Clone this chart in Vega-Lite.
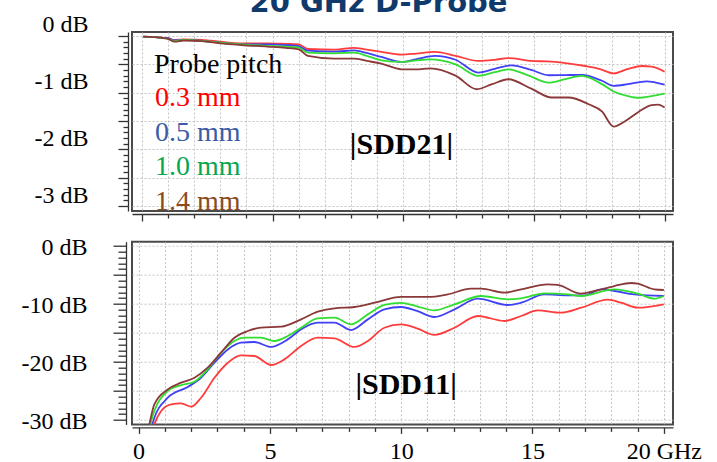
{
  "$schema": "https://vega.github.io/schema/vega-lite/v6.json",
  "background": "white",
  "padding": {"left": 20, "top": -13, "right": 5, "bottom": 5},
  "autosize": {"type": "pad"},
  "bounds": "flush",
  "spacing": 30.7,
  "config": {
    "view": {"stroke": "#4a4a4a", "strokeWidth": 2},
    "font": "Liberation Serif",
    "axis": {"labelFont": "Liberation Serif", "labelColor": "black", "labelFontSize": 24, "labelOverlap": false, "labelBound": false, "labelFlush": false, "gridColor": "#c4c4c4", "gridDash": [2, 2], "gridWidth": 1, "tickColor": "#333333", "tickWidth": 1.3, "domainColor": "#333333", "domainWidth": 1.3, "title": null, "tickCount": 200}
  },
  "datasets": {
    "s21": [
      {"f":0.05,"v":-0.01,"pitch":"0.3 mm"},{"f":0.5,"v":-0.02,"pitch":"0.3 mm"},{"f":1.0,"v":-0.04,"pitch":"0.3 mm"},{"f":1.25,"v":-0.07,"pitch":"0.3 mm"},{"f":1.6,"v":-0.06,"pitch":"0.3 mm"},{"f":2.3,"v":-0.07,"pitch":"0.3 mm"},{"f":3.0,"v":-0.1,"pitch":"0.3 mm"},{"f":3.8,"v":-0.13,"pitch":"0.3 mm"},{"f":4.8,"v":-0.13,"pitch":"0.3 mm"},{"f":5.5,"v":-0.14,"pitch":"0.3 mm"},{"f":6.0,"v":-0.15,"pitch":"0.3 mm"},{"f":6.35,"v":-0.23,"pitch":"0.3 mm"},{"f":7.4,"v":-0.24,"pitch":"0.3 mm"},{"f":8.1,"v":-0.21,"pitch":"0.3 mm"},{"f":8.6,"v":-0.24,"pitch":"0.3 mm"},{"f":9.16,"v":-0.28,"pitch":"0.3 mm"},{"f":9.93,"v":-0.33,"pitch":"0.3 mm"},{"f":10.5,"v":-0.31,"pitch":"0.3 mm"},{"f":11.2,"v":-0.28,"pitch":"0.3 mm"},{"f":12.0,"v":-0.35,"pitch":"0.3 mm"},{"f":12.87,"v":-0.44,"pitch":"0.3 mm"},{"f":13.5,"v":-0.42,"pitch":"0.3 mm"},{"f":14.02,"v":-0.39,"pitch":"0.3 mm"},{"f":14.92,"v":-0.44,"pitch":"0.3 mm"},{"f":15.5,"v":-0.45,"pitch":"0.3 mm"},{"f":16.07,"v":-0.47,"pitch":"0.3 mm"},{"f":16.96,"v":-0.53,"pitch":"0.3 mm"},{"f":17.5,"v":-0.58,"pitch":"0.3 mm"},{"f":18.05,"v":-0.66,"pitch":"0.3 mm"},{"f":18.6,"v":-0.58,"pitch":"0.3 mm"},{"f":19.13,"v":-0.53,"pitch":"0.3 mm"},{"f":19.5,"v":-0.54,"pitch":"0.3 mm"},{"f":20.0,"v":-0.63,"pitch":"0.3 mm"},
      {"f":0.05,"v":-0.01,"pitch":"0.5 mm"},{"f":0.5,"v":-0.02,"pitch":"0.5 mm"},{"f":1.0,"v":-0.04,"pitch":"0.5 mm"},{"f":1.25,"v":-0.08,"pitch":"0.5 mm"},{"f":1.6,"v":-0.07,"pitch":"0.5 mm"},{"f":2.3,"v":-0.085,"pitch":"0.5 mm"},{"f":3.0,"v":-0.12,"pitch":"0.5 mm"},{"f":3.8,"v":-0.148,"pitch":"0.5 mm"},{"f":4.8,"v":-0.15,"pitch":"0.5 mm"},{"f":5.5,"v":-0.16,"pitch":"0.5 mm"},{"f":6.0,"v":-0.18,"pitch":"0.5 mm"},{"f":6.35,"v":-0.26,"pitch":"0.5 mm"},{"f":7.36,"v":-0.276,"pitch":"0.5 mm"},{"f":8.13,"v":-0.254,"pitch":"0.5 mm"},{"f":8.6,"v":-0.3,"pitch":"0.5 mm"},{"f":9.16,"v":-0.37,"pitch":"0.5 mm"},{"f":9.93,"v":-0.458,"pitch":"0.5 mm"},{"f":10.5,"v":-0.41,"pitch":"0.5 mm"},{"f":11.21,"v":-0.352,"pitch":"0.5 mm"},{"f":12.0,"v":-0.42,"pitch":"0.5 mm"},{"f":12.87,"v":-0.646,"pitch":"0.5 mm"},{"f":13.5,"v":-0.58,"pitch":"0.5 mm"},{"f":14.15,"v":-0.518,"pitch":"0.5 mm"},{"f":14.9,"v":-0.6,"pitch":"0.5 mm"},{"f":15.56,"v":-0.693,"pitch":"0.5 mm"},{"f":16.2,"v":-0.69,"pitch":"0.5 mm"},{"f":16.83,"v":-0.687,"pitch":"0.5 mm"},{"f":17.6,"v":-0.79,"pitch":"0.5 mm"},{"f":18.05,"v":-0.88,"pitch":"0.5 mm"},{"f":18.6,"v":-0.85,"pitch":"0.5 mm"},{"f":19.3,"v":-0.8,"pitch":"0.5 mm"},{"f":20.0,"v":-0.86,"pitch":"0.5 mm"},
      {"f":0.05,"v":-0.01,"pitch":"1.0 mm"},{"f":0.5,"v":-0.02,"pitch":"1.0 mm"},{"f":1.0,"v":-0.05,"pitch":"1.0 mm"},{"f":1.25,"v":-0.09,"pitch":"1.0 mm"},{"f":1.6,"v":-0.07,"pitch":"1.0 mm"},{"f":2.3,"v":-0.088,"pitch":"1.0 mm"},{"f":3.0,"v":-0.12,"pitch":"1.0 mm"},{"f":3.8,"v":-0.15,"pitch":"1.0 mm"},{"f":4.8,"v":-0.176,"pitch":"1.0 mm"},{"f":5.5,"v":-0.19,"pitch":"1.0 mm"},{"f":6.0,"v":-0.206,"pitch":"1.0 mm"},{"f":6.35,"v":-0.294,"pitch":"1.0 mm"},{"f":7.36,"v":-0.306,"pitch":"1.0 mm"},{"f":8.13,"v":-0.294,"pitch":"1.0 mm"},{"f":8.6,"v":-0.35,"pitch":"1.0 mm"},{"f":9.16,"v":-0.43,"pitch":"1.0 mm"},{"f":9.93,"v":-0.458,"pitch":"1.0 mm"},{"f":10.5,"v":-0.43,"pitch":"1.0 mm"},{"f":11.02,"v":-0.412,"pitch":"1.0 mm"},{"f":12.0,"v":-0.5,"pitch":"1.0 mm"},{"f":12.87,"v":-0.704,"pitch":"1.0 mm"},{"f":13.5,"v":-0.64,"pitch":"1.0 mm"},{"f":14.02,"v":-0.588,"pitch":"1.0 mm"},{"f":14.8,"v":-0.7,"pitch":"1.0 mm"},{"f":15.56,"v":-0.822,"pitch":"1.0 mm"},{"f":16.2,"v":-0.76,"pitch":"1.0 mm"},{"f":16.83,"v":-0.704,"pitch":"1.0 mm"},{"f":17.6,"v":-0.85,"pitch":"1.0 mm"},{"f":18.05,"v":-0.98,"pitch":"1.0 mm"},{"f":18.6,"v":-1.06,"pitch":"1.0 mm"},{"f":19.01,"v":-1.09,"pitch":"1.0 mm"},{"f":19.5,"v":-1.06,"pitch":"1.0 mm"},{"f":20.0,"v":-1.016,"pitch":"1.0 mm"},
      {"f":0.05,"v":-0.01,"pitch":"1.4 mm"},{"f":0.5,"v":-0.02,"pitch":"1.4 mm"},{"f":1.0,"v":-0.05,"pitch":"1.4 mm"},{"f":1.25,"v":-0.1,"pitch":"1.4 mm"},{"f":1.6,"v":-0.08,"pitch":"1.4 mm"},{"f":2.3,"v":-0.09,"pitch":"1.4 mm"},{"f":3.0,"v":-0.13,"pitch":"1.4 mm"},{"f":3.8,"v":-0.16,"pitch":"1.4 mm"},{"f":4.8,"v":-0.188,"pitch":"1.4 mm"},{"f":5.5,"v":-0.21,"pitch":"1.4 mm"},{"f":6.0,"v":-0.236,"pitch":"1.4 mm"},{"f":6.35,"v":-0.352,"pitch":"1.4 mm"},{"f":7.36,"v":-0.4,"pitch":"1.4 mm"},{"f":8.13,"v":-0.4,"pitch":"1.4 mm"},{"f":8.6,"v":-0.44,"pitch":"1.4 mm"},{"f":9.16,"v":-0.488,"pitch":"1.4 mm"},{"f":9.93,"v":-0.588,"pitch":"1.4 mm"},{"f":10.5,"v":-0.59,"pitch":"1.4 mm"},{"f":11.02,"v":-0.57,"pitch":"1.4 mm"},{"f":12.0,"v":-0.7,"pitch":"1.4 mm"},{"f":12.81,"v":-0.94,"pitch":"1.4 mm"},{"f":13.4,"v":-0.85,"pitch":"1.4 mm"},{"f":14.02,"v":-0.764,"pitch":"1.4 mm"},{"f":14.9,"v":-0.93,"pitch":"1.4 mm"},{"f":15.68,"v":-1.086,"pitch":"1.4 mm"},{"f":16.32,"v":-1.086,"pitch":"1.4 mm"},{"f":17.09,"v":-1.204,"pitch":"1.4 mm"},{"f":17.6,"v":-1.33,"pitch":"1.4 mm"},{"f":18.05,"v":-1.6,"pitch":"1.4 mm"},{"f":18.5,"v":-1.5,"pitch":"1.4 mm"},{"f":19.0,"v":-1.34,"pitch":"1.4 mm"},{"f":19.5,"v":-1.22,"pitch":"1.4 mm"},{"f":19.75,"v":-1.21,"pitch":"1.4 mm"},{"f":20.0,"v":-1.26,"pitch":"1.4 mm"}
    ],
    "s11": [
      {"f":0.45,"v":-33,"pitch":"0.3 mm"},{"f":0.6,"v":-30.76,"pitch":"0.3 mm"},{"f":0.86,"v":-28.45,"pitch":"0.3 mm"},{"f":1.24,"v":-27.31,"pitch":"0.3 mm"},{"f":1.62,"v":-27.14,"pitch":"0.3 mm"},{"f":2.0,"v":-27.71,"pitch":"0.3 mm"},{"f":2.38,"v":-26.16,"pitch":"0.3 mm"},{"f":2.89,"v":-22.71,"pitch":"0.3 mm"},{"f":3.4,"v":-20.12,"pitch":"0.3 mm"},{"f":3.9,"v":-18.85,"pitch":"0.3 mm"},{"f":4.41,"v":-18.97,"pitch":"0.3 mm"},{"f":5.05,"v":-20.52,"pitch":"0.3 mm"},{"f":5.55,"v":-19.55,"pitch":"0.3 mm"},{"f":6.19,"v":-17.24,"pitch":"0.3 mm"},{"f":6.82,"v":-15.81,"pitch":"0.3 mm"},{"f":7.46,"v":-15.93,"pitch":"0.3 mm"},{"f":8.22,"v":-17.41,"pitch":"0.3 mm"},{"f":8.73,"v":-16.38,"pitch":"0.3 mm"},{"f":9.36,"v":-14.09,"pitch":"0.3 mm"},{"f":10.0,"v":-13.52,"pitch":"0.3 mm"},{"f":10.6,"v":-14.2,"pitch":"0.3 mm"},{"f":11.26,"v":-15.34,"pitch":"0.3 mm"},{"f":12.03,"v":-14.09,"pitch":"0.3 mm"},{"f":12.92,"v":-12.07,"pitch":"0.3 mm"},{"f":13.93,"v":-12.93,"pitch":"0.3 mm"},{"f":14.57,"v":-12.07,"pitch":"0.3 mm"},{"f":15.2,"v":-11.1,"pitch":"0.3 mm"},{"f":16.09,"v":-11.5,"pitch":"0.3 mm"},{"f":16.85,"v":-10.64,"pitch":"0.3 mm"},{"f":17.87,"v":-9.26,"pitch":"0.3 mm"},{"f":18.37,"v":-9.78,"pitch":"0.3 mm"},{"f":19.01,"v":-10.64,"pitch":"0.3 mm"},{"f":20.0,"v":-10.06,"pitch":"0.3 mm"},
      {"f":0.4,"v":-33,"pitch":"0.5 mm"},{"f":0.54,"v":-30.47,"pitch":"0.5 mm"},{"f":1.11,"v":-26.16,"pitch":"0.5 mm"},{"f":1.87,"v":-24.31,"pitch":"0.5 mm"},{"f":2.38,"v":-22.71,"pitch":"0.5 mm"},{"f":2.89,"v":-20.12,"pitch":"0.5 mm"},{"f":3.4,"v":-17.83,"pitch":"0.5 mm"},{"f":3.9,"v":-16.67,"pitch":"0.5 mm"},{"f":4.41,"v":-16.55,"pitch":"0.5 mm"},{"f":5.05,"v":-17.41,"pitch":"0.5 mm"},{"f":5.68,"v":-16.1,"pitch":"0.5 mm"},{"f":6.19,"v":-14.37,"pitch":"0.5 mm"},{"f":6.82,"v":-13.22,"pitch":"0.5 mm"},{"f":7.46,"v":-13.22,"pitch":"0.5 mm"},{"f":8.09,"v":-14.49,"pitch":"0.5 mm"},{"f":8.73,"v":-12.65,"pitch":"0.5 mm"},{"f":9.36,"v":-10.92,"pitch":"0.5 mm"},{"f":10.0,"v":-10.52,"pitch":"0.5 mm"},{"f":10.6,"v":-11.2,"pitch":"0.5 mm"},{"f":11.26,"v":-12.24,"pitch":"0.5 mm"},{"f":12.03,"v":-10.92,"pitch":"0.5 mm"},{"f":12.92,"v":-9.09,"pitch":"0.5 mm"},{"f":14.06,"v":-10.17,"pitch":"0.5 mm"},{"f":14.57,"v":-9.78,"pitch":"0.5 mm"},{"f":15.45,"v":-8.34,"pitch":"0.5 mm"},{"f":16.34,"v":-8.51,"pitch":"0.5 mm"},{"f":16.98,"v":-8.51,"pitch":"0.5 mm"},{"f":17.61,"v":-7.48,"pitch":"0.5 mm"},{"f":18.12,"v":-7.76,"pitch":"0.5 mm"},{"f":18.88,"v":-8.34,"pitch":"0.5 mm"},{"f":20.0,"v":-8.62,"pitch":"0.5 mm"},
      {"f":0.35,"v":-33,"pitch":"1.0 mm"},{"f":0.48,"v":-30.17,"pitch":"1.0 mm"},{"f":1.11,"v":-25.0,"pitch":"1.0 mm"},{"f":1.62,"v":-24.0,"pitch":"1.0 mm"},{"f":2.13,"v":-23.4,"pitch":"1.0 mm"},{"f":2.63,"v":-21.28,"pitch":"1.0 mm"},{"f":3.14,"v":-18.4,"pitch":"1.0 mm"},{"f":3.65,"v":-16.38,"pitch":"1.0 mm"},{"f":4.03,"v":-15.81,"pitch":"1.0 mm"},{"f":4.66,"v":-15.81,"pitch":"1.0 mm"},{"f":5.17,"v":-16.38,"pitch":"1.0 mm"},{"f":5.68,"v":-15.52,"pitch":"1.0 mm"},{"f":6.19,"v":-14.09,"pitch":"1.0 mm"},{"f":6.82,"v":-12.48,"pitch":"1.0 mm"},{"f":7.46,"v":-12.36,"pitch":"1.0 mm"},{"f":8.09,"v":-13.52,"pitch":"1.0 mm"},{"f":8.73,"v":-11.79,"pitch":"1.0 mm"},{"f":9.36,"v":-10.17,"pitch":"1.0 mm"},{"f":10.0,"v":-9.8,"pitch":"1.0 mm"},{"f":10.6,"v":-10.4,"pitch":"1.0 mm"},{"f":11.26,"v":-11.1,"pitch":"1.0 mm"},{"f":12.03,"v":-10.06,"pitch":"1.0 mm"},{"f":13.04,"v":-8.62,"pitch":"1.0 mm"},{"f":14.06,"v":-9.2,"pitch":"1.0 mm"},{"f":14.57,"v":-9.03,"pitch":"1.0 mm"},{"f":15.45,"v":-8.17,"pitch":"1.0 mm"},{"f":16.34,"v":-8.34,"pitch":"1.0 mm"},{"f":16.85,"v":-8.62,"pitch":"1.0 mm"},{"f":18.12,"v":-7.48,"pitch":"1.0 mm"},{"f":19.01,"v":-8.22,"pitch":"1.0 mm"},{"f":19.64,"v":-9.09,"pitch":"1.0 mm"},{"f":20.0,"v":-8.62,"pitch":"1.0 mm"},
      {"f":0.3,"v":-33,"pitch":"1.4 mm"},{"f":0.41,"v":-30.76,"pitch":"1.4 mm"},{"f":0.6,"v":-27.3,"pitch":"1.4 mm"},{"f":1.11,"v":-24.72,"pitch":"1.4 mm"},{"f":1.62,"v":-23.57,"pitch":"1.4 mm"},{"f":2.13,"v":-22.71,"pitch":"1.4 mm"},{"f":2.63,"v":-20.98,"pitch":"1.4 mm"},{"f":3.14,"v":-18.4,"pitch":"1.4 mm"},{"f":3.65,"v":-15.81,"pitch":"1.4 mm"},{"f":4.16,"v":-14.66,"pitch":"1.4 mm"},{"f":4.66,"v":-14.09,"pitch":"1.4 mm"},{"f":5.43,"v":-13.91,"pitch":"1.4 mm"},{"f":6.19,"v":-12.65,"pitch":"1.4 mm"},{"f":6.82,"v":-11.33,"pitch":"1.4 mm"},{"f":7.46,"v":-10.75,"pitch":"1.4 mm"},{"f":8.22,"v":-10.52,"pitch":"1.4 mm"},{"f":8.98,"v":-9.78,"pitch":"1.4 mm"},{"f":10.0,"v":-8.79,"pitch":"1.4 mm"},{"f":11.01,"v":-8.79,"pitch":"1.4 mm"},{"f":11.77,"v":-8.34,"pitch":"1.4 mm"},{"f":12.66,"v":-7.36,"pitch":"1.4 mm"},{"f":13.04,"v":-7.36,"pitch":"1.4 mm"},{"f":13.93,"v":-8.05,"pitch":"1.4 mm"},{"f":14.57,"v":-7.48,"pitch":"1.4 mm"},{"f":15.58,"v":-6.61,"pitch":"1.4 mm"},{"f":15.96,"v":-6.72,"pitch":"1.4 mm"},{"f":16.85,"v":-8.22,"pitch":"1.4 mm"},{"f":17.36,"v":-7.76,"pitch":"1.4 mm"},{"f":18.12,"v":-6.9,"pitch":"1.4 mm"},{"f":18.75,"v":-6.38,"pitch":"1.4 mm"},{"f":19.01,"v":-6.5,"pitch":"1.4 mm"},{"f":19.64,"v":-7.48,"pitch":"1.4 mm"},{"f":20.0,"v":-7.59,"pitch":"1.4 mm"}
    ],
    "labels21": [{"f": 9.93, "v": -2.085, "t": "|SDD21|"}],
    "labels11": [{"f": 10.19, "v": -25.59, "t": "|SDD11|"}]
  },
  "resolve": {"scale": {"color": "independent", "x": "independent", "y": "independent"}},
  "vconcat": [
    {
      "width": 541,
      "height": 179,
      "title": {"text": "20 GHz D-Probe", "font": "DejaVu Sans", "fontSize": 29, "fontWeight": "bold", "color": "#0f3a6b", "anchor": "middle", "frame": "group", "baseline": "alphabetic", "offset": -28, "dx": -24},
      "layer": [
        {
          "data": {"name": "s21"},
          "mark": {"type": "line", "interpolate": "monotone", "strokeWidth": 1.8, "clip": true},
          "encoding": {
            "x": {"field": "f", "type": "quantitative", "scale": {"domain": [-0.38, 20.32], "nice": false, "zero": false},
              "axis": {"values": [0,1,2,3,4,5,6,7,8,9,10,11,12,13,14,15,16,17,18,19,20], "tickCount": 200, "labels": false, "offset": 3,
                "tickSize": {"condition": {"test": "datum.value % 5 === 0", "value": 7}, "value": 4}}},
            "y": {"field": "v", "type": "quantitative", "scale": {"domain": [-3.088, 0.07], "nice": false, "zero": false},
              "axis": {"values": [0,-0.1,-0.2,-0.3,-0.4,-0.5,-0.6,-0.7,-0.8,-0.9,-1,-1.1,-1.2,-1.3,-1.4,-1.5,-1.6,-1.7,-1.8,-1.9,-2,-2.1,-2.2,-2.3,-2.4,-2.5,-2.6,-2.7,-2.8,-2.9,-3], "tickCount": 200,
                "offset": 4, "labelPadding": 30, "labelOffset": -11,
                "tickSize": {"condition": {"test": "abs(datum.value*2 - round(datum.value*2)) < 0.001", "value": 10}, "value": 5},
                "gridOpacity": {"condition": {"test": "abs(datum.value*2 - round(datum.value*2)) < 0.001", "value": 1}, "value": 0},
                "labelExpr": "abs(datum.value - round(datum.value)) < 0.001 ? (datum.value < -0.5 ? '-' : '') + abs(round(datum.value)) + ' dB' : ''"}},
            "color": {"field": "pitch", "type": "nominal",
              "scale": {"domain": ["0.3 mm", "0.5 mm", "1.0 mm", "1.4 mm"], "range": ["#ff3c3c", "#4040f5", "#30dd30", "#8b3838"]},
              "legend": {"orient": "none", "legendX": 22, "legendY": 19, "direction": "vertical", "title": "Probe pitch",
                "titleFont": "Liberation Serif", "titleFontSize": 28, "titleFontWeight": "normal", "titleColor": "black", "titlePadding": 5,
                "labelFont": "Liberation Serif", "labelFontSize": 28, "symbolSize": 0, "symbolOpacity": 0, "symbolStrokeWidth": 0, "labelOffset": -27, "rowPadding": 6.5, "padding": 0,
                "encode": {"labels": {"update": {"fill": {"signal": "datum.value === '0.3 mm' ? '#ff0000' : datum.value === '0.5 mm' ? '#3a5ba5' : datum.value === '1.0 mm' ? '#0aa64e' : '#8b4a1e'"}}}}}}
          }
        },
        {
          "data": {"name": "labels21"},
          "mark": {"type": "text", "font": "Liberation Serif", "fontSize": 30, "fontWeight": "bold", "color": "black", "align": "center", "baseline": "alphabetic"},
          "encoding": {"x": {"field": "f", "type": "quantitative"}, "y": {"field": "v", "type": "quantitative"}, "text": {"field": "t"}}
        }
      ]
    },
    {
      "width": 541,
      "height": 182.7,
      "layer": [
        {
          "data": {"name": "s11"},
          "mark": {"type": "line", "interpolate": "monotone", "strokeWidth": 1.8, "clip": true},
          "encoding": {
            "x": {"field": "f", "type": "quantitative", "scale": {"domain": [-0.25, 20.35], "nice": false, "zero": false},
              "axis": {"values": [0,1,2,3,4,5,6,7,8,9,10,11,12,13,14,15,16,17,18,19,20], "tickCount": 200, "offset": 3, "labelPadding": 6, "labelBaseline": "top",
                "tickSize": {"condition": {"test": "datum.value % 5 === 0", "value": 6}, "value": 4},
                "labelExpr": "datum.value % 5 === 0 ? (datum.value === 20 ? '20 GHz' : '' + datum.value) : ''"}},
            "y": {"field": "v", "type": "quantitative", "scale": {"domain": [-30.76, 0.74], "nice": false, "zero": false},
              "axis": {"values": [0,-1,-2,-3,-4,-5,-6,-7,-8,-9,-10,-11,-12,-13,-14,-15,-16,-17,-18,-19,-20,-21,-22,-23,-24,-25,-26,-27,-28,-29,-30], "tickCount": 200,
                "offset": 6, "labelPadding": 26, "labelOffset": 2,
                "tickSize": {"condition": {"test": "datum.value % 5 === 0", "value": 13}, "value": 8},
                "gridOpacity": {"condition": {"test": "datum.value % 5 === 0", "value": 1}, "value": 0},
                "labelExpr": "datum.value % 10 === 0 ? (datum.value < 0 ? '-' : '') + abs(datum.value) + ' dB' : ''"}},
            "color": {"field": "pitch", "type": "nominal",
              "scale": {"domain": ["0.3 mm", "0.5 mm", "1.0 mm", "1.4 mm"], "range": ["#ff3c3c", "#4040f5", "#30dd30", "#8b3838"]},
              "legend": null}
          }
        },
        {
          "data": {"name": "labels11"},
          "mark": {"type": "text", "font": "Liberation Serif", "fontSize": 30, "fontWeight": "bold", "color": "black", "align": "center", "baseline": "alphabetic"},
          "encoding": {"x": {"field": "f", "type": "quantitative"}, "y": {"field": "v", "type": "quantitative"}, "text": {"field": "t"}}
        }
      ]
    }
  ]
}
